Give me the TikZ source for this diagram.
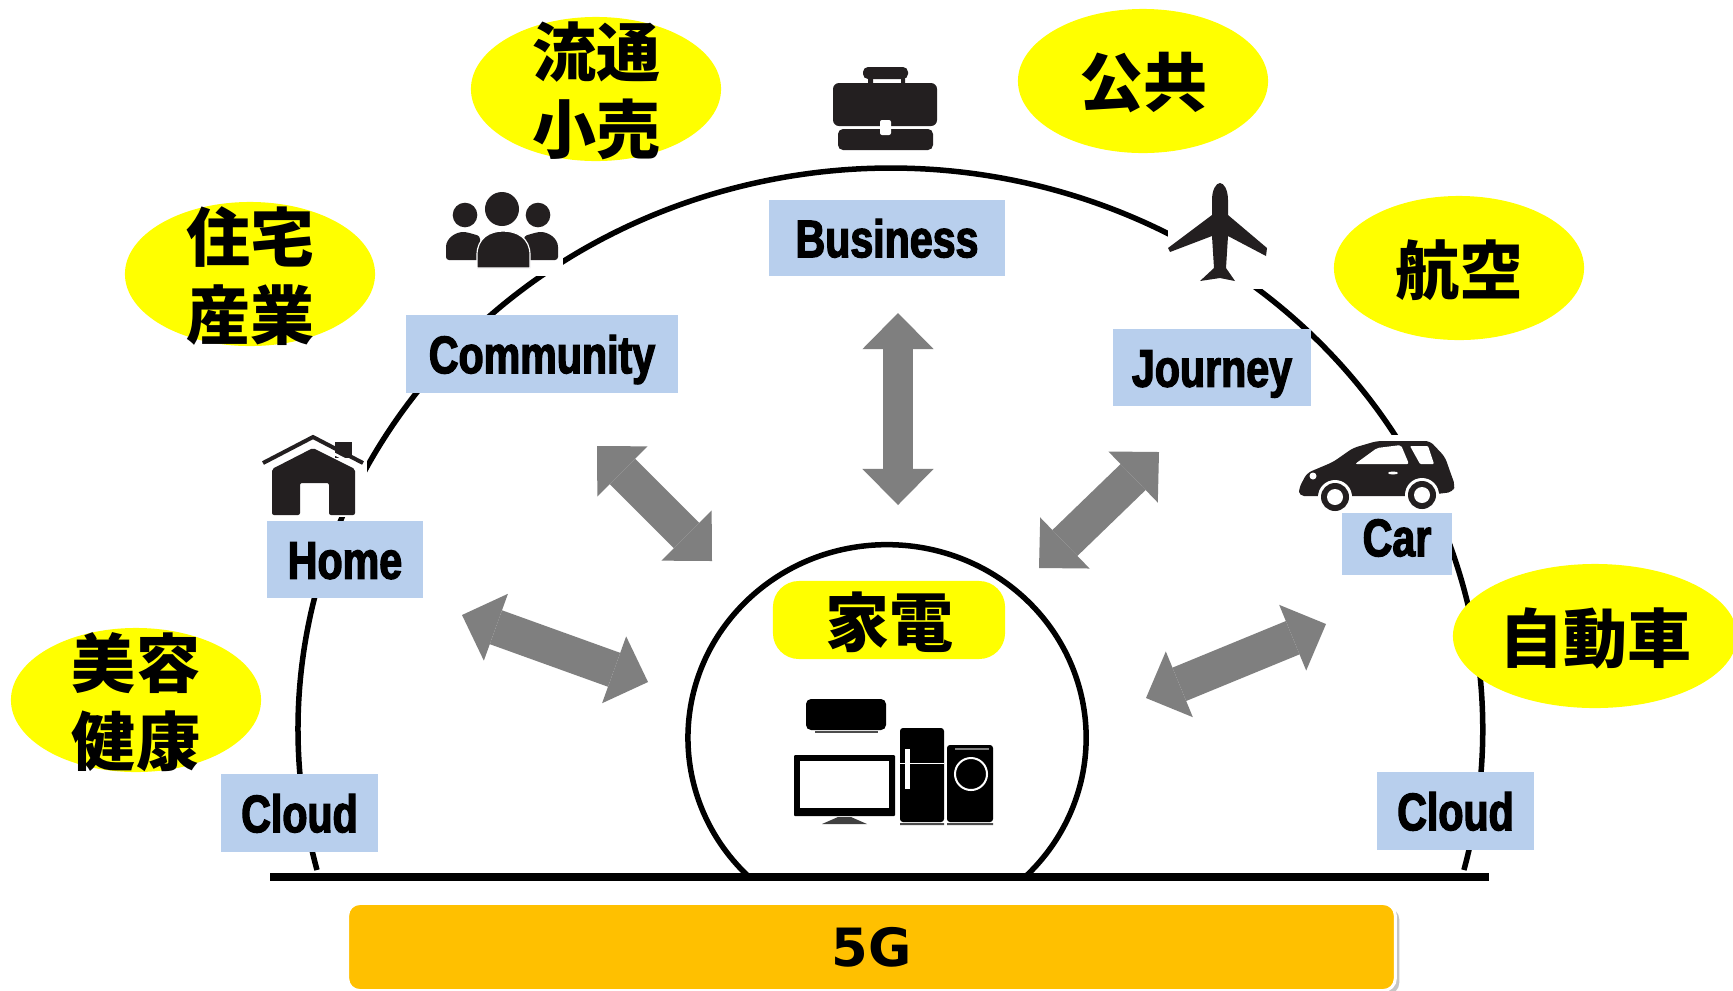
\documentclass[tikz,border=0pt]{standalone}
\usepackage{fontspec}
\newfontfamily\cjkfont{Noto Sans CJK JP}
\newfontfamily\tagfont[FakeStretch=0.78,BoldFeatures={RawFeature={embolden=2.5}}]{Liberation Sans}
\newfontfamily\basefont{DejaVu Sans}
\usetikzlibrary{positioning, arrows.meta, shapes.geometric, shadows}
\definecolor{sectoryellow}{HTML}{FFFF00}
\definecolor{tagblue}{HTML}{B8CFED}
\definecolor{baseorange}{HTML}{FFC000}
\definecolor{arrowgrey}{HTML}{7F7F7F}
\definecolor{iconblack}{HTML}{231F20}
\tikzset{sector/.style={ellipse,fill=sectoryellow,minimum width=2.5cm,minimum height=1.44cm,inner sep=0pt},
         sectortext/.style={font=\cjkfont\bfseries\fontsize{18.2}{22}\selectfont,align=center,inner sep=0pt,yshift=-.02cm},
         tagbox/.style={fill=tagblue,font=\tagfont\bfseries\fontsize{15}{15}\selectfont,inner sep=0pt,text height=10.9pt,text depth=0pt},
         iconback/.style={fill=white,inner sep=0pt},
         bigarrow/.style={draw=arrowgrey,line width=.30cm,{Triangle[length=3.6mm,width=7.1mm,line width=0pt]}-{Triangle[length=3.6mm,width=7.1mm,line width=0pt]}},
         iconfill/.style={fill=iconblack},
        }

\begin{document}
\begin{tikzpicture}[x=0.01cm,y=-0.01cm]
        \clip(0,0)rectangle(1733,990);
        \fill[white](0,0)rectangle(1733,990);
        \draw[line width=.055cm](317,870)arc[start angle=194.5,end angle=-14.5,x radius=5.92cm,y radius=5.61cm];
        \node[iconback,minimum width=1.07cm,minimum height=.84cm](homeback)at(313.5,475){};
        \node[iconback,minimum width=1.23cm,minimum height=.86cm](communityback)at(501.5,233){};
        \node[iconback,minimum width=1.07cm,minimum height=1.09cm](planeback)at(1221.5,234.5){};
        \node[iconback,minimum width=1.62cm,minimum height=.78cm](carback)at(1379,474){};
        \draw[line width=.08cm](270,877)--(1489,877);
        \draw[line width=.055cm](747,875)arc[start angle=225.3,end angle=-45.3,x radius=1.99cm,y radius=1.93cm];
        %
        \node[sector,label={[sectortext]center:流通\\小売}](retail)at(596,89){};
        \node[sector,label={[sectortext]center:公共}](public)at(1143,81){};
        \node[sector,label={[sectortext]center:住宅\\産業}](housing)at(250,274){};
        \node[sector,label={[sectortext]center:航空}](aviation)at(1459,268){};
        \node[sector,label={[sectortext]center:美容\\健康}](beauty)at(136,700){};
        \node[sector,minimum width=2.84cm,label={[sectortext]center:自動車}](auto)at(1595,636){};
        \node[fill=sectoryellow,rounded corners=.26cm,minimum width=2.32cm,minimum height=.78cm,inner sep=0pt,text height=17pt,font=\cjkfont\bfseries\fontsize{18.2}{22}\selectfont](appliance)at(889,620){家電};
        %
        \node[tagbox,minimum width=2.36cm,minimum height=.76cm](business)at(887,238){Business};
        \node[tagbox,minimum width=2.72cm,minimum height=.78cm](community)at(542,354){Community};
        \node[tagbox,minimum width=1.56cm,minimum height=.77cm](home)at(345,559.5){Home};
        \node[tagbox,minimum width=1.98cm,minimum height=.77cm](journey)at(1212,367.5){Journey};
        \node[tagbox,minimum width=1.10cm,minimum height=.62cm,text depth=4pt](car)at(1397,544){Car};
        \node[tagbox,minimum width=1.57cm,minimum height=.78cm](cloudl)at(299.5,813){Cloud};
        \node[tagbox,minimum width=1.57cm,minimum height=.78cm](cloudr)at(1455.5,811){Cloud};
        %
        \node[draw=white,line width=.03cm,fill=baseorange,rounded corners=.12cm,minimum width=10.47cm,minimum height=.87cm,inner sep=0pt,font=\basefont\bfseries\fontsize{15}{15}\selectfont,drop shadow={shadow xshift=.04cm,shadow yshift=-.04cm,opacity=.45}](fiveg)at(871.5,947){5G};
        %
        \coordinate(vt)at(898,313);\coordinate(vb)at(898,505);
        \coordinate(nwa)at(597,446);\coordinate(nwb)at(712,561);
        \coordinate(nea)at(1159,452);\coordinate(neb)at(1039,568);
        \coordinate(wa)at(462,615);\coordinate(wb)at(648,682);
        \coordinate(ea)at(1326,624);\coordinate(eb)at(1146,698);
        \draw[bigarrow](vt)--(vb);
        \draw[bigarrow,line width=.36cm](nwa)--(nwb);
        \draw[bigarrow,line width=.36cm](nea)--(neb);
        \draw[bigarrow,line width=.36cm](wa)--(wb);
        \draw[bigarrow,line width=.36cm](ea)--(eb);
        %
        \fill[iconfill,rounded corners=.06cm](833,83)rectangle(937,126);
        \fill[iconfill,rounded corners=.05cm](838,129)rectangle(933,150);
        \fill[iconfill,rounded corners=.05cm](863,67)rectangle(908,79);
        \fill[iconfill](868,78)rectangle(873,84)(901,78)rectangle(905,84);
        \fill[white,rounded corners=.02cm](880,120)rectangle(891,135);
        %
        \fill[iconfill](465,215)circle(.123cm)(538,215)circle(.123cm)(502,209)circle(.17cm);
        \fill[iconfill,rounded corners=.03cm](446,260)--(446,250)..controls(446,238)and(456,232)..(466,232)--(480,236)--(480,260)--cycle;
        \fill[iconfill,rounded corners=.03cm](558,260)--(558,250)..controls(558,238)and(548,232)..(538,232)--(524,236)--(524,260)--cycle;
        \fill[iconfill,draw=white,line width=.012cm](477,268)--(477,255)..controls(477,238)and(490,231)..(503,231)..controls(517,231)and(530,238)..(530,255)--(530,268)--cycle;
        %
        \fill[iconfill](335,442)rectangle(352,458);
        \draw[iconblack,line width=.04cm](263,463)--(313,437)--(363,463);
        \draw[white,line width=.025cm](264,468)--(313,443)--(362,468);
        \fill[iconfill,rounded corners=.02cm](272,469)--(313,448)--(355,469)--(355,515)--(329,515)--(329,483)--(300,483)--(300,515)--(272,515)--cycle;
        %
        \fill[iconfill](1212,200)..controls(1212,190)and(1216,183)..(1220,183)..controls(1224,183)and(1228,190)..(1228,200)--(1228,215)--(1267,248)--(1266,256)--(1228,236)--(1226,268)--(1235,281)--(1220,278)--(1200,281)--(1214,268)--(1212,236)--(1170,252)--(1168,248)--(1212,215)--cycle;
        %
        \fill[iconfill,rounded corners=.05cm](1299,496)--(1299,488)--(1307,473)--(1333,462)--(1353,448)--(1377,441)--(1430,441)--(1445,457)--(1452,477)--(1455,485)--(1453,492)--(1420,496)--cycle;
        \fill[white,rounded corners=.02cm](1355,464)--(1377,448)--(1401,445)--(1409,464)--cycle;
        \fill[white,rounded corners=.01cm](1410,446)--(1428,446)--(1434,464)--(1420,464)--cycle;
        \fill[white](1313,476)circle(.035cm)(1393,473)ellipse(.05cm and .015cm);
        \fill[white](1335,497)circle(.17cm)(1422,495)circle(.17cm);
        \fill[iconfill](1335,497)circle(.14cm)(1422,495)circle(.14cm);
        \fill[white](1335,497)circle(.08cm)(1422,495)circle(.08cm);
        %
        \fill[black,rounded corners=.05cm](806,699)rectangle(886,730);
        \fill[black!70](815,731)rectangle(878,733);
        \fill[black,rounded corners=.01cm](794,755)rectangle(895,816);
        \fill[white](800,761)rectangle(889,808);
        \fill[black!75](838,817)--(851,817)--(867,824)--(822,824)--cycle;
        \fill[black,rounded corners=.03cm](900,728)rectangle(944,822);
        \fill[black,rounded corners=.03cm](947,745)rectangle(993,822);
        \fill[black!70](900,823)rectangle(944,825)(947,823)rectangle(993,825);
        \fill[white](900,763)rectangle(944,764);
        \fill[white](905,749)rectangle(910,789);
        \draw[white,line width=.02cm](971,774)circle(.16cm);
        \draw[black!50!white,line width=.012cm](955,749)--(989,749);
    \end{tikzpicture}
\end{document}
